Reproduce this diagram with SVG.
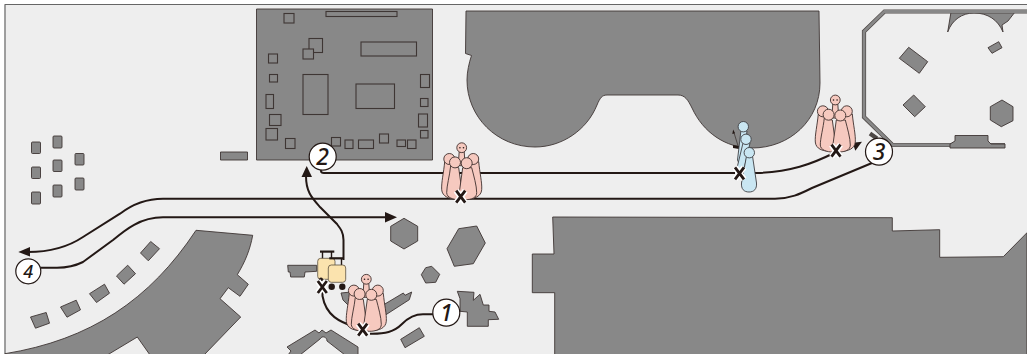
<svg xmlns="http://www.w3.org/2000/svg" width="1027" height="354" viewBox="0 0 1027 354">
<style>
.b{fill:#888;stroke:#3e3634;stroke-width:.9;stroke-linejoin:round}
.i{fill:none;stroke:#3e3634;stroke-width:1.100}
.s{fill:#888;stroke:#3e3634;stroke-width:1.100}
.wo{fill:none;stroke:#4e4846;stroke-width:4.200}
.wi{fill:none;stroke:#888;stroke-width:2.800}
.r{fill:none;stroke:#231815;stroke-width:2}
.a{fill:#231815}
.p{fill:#f6c9bf;stroke:#3e2f2c;stroke-width:.9}
.u{fill:#c9e6f2;stroke:#3e3f44;stroke-width:.9}
.c{fill:#fbe3ae;stroke:#5c5040;stroke-width:.8}
.n{fill:#fff;stroke:#231815;stroke-width:1.200}
.t{font-family:"Noto Sans","Open Sans",sans-serif;font-style:italic;font-weight:500;fill:#231815;text-anchor:middle}
.xh{fill:none;stroke:#fff;stroke-width:6}
.xk{fill:none;stroke:#231815;stroke-width:2.800}
</style>
<defs>
<g id="cluster">
<path class="p" d="M-2.500 4L-3.500 18L3.500 18L2.500 4Z"/>
<circle class="p" cx="0" cy="0" r="4.900"/>
<circle class="a" cx="-1.800" cy="0" r=".8"/>
<circle class="a" cx="1.800" cy="0" r=".8"/>
<path class="p" d="M-17 14C-18 25-20.500 35-20 42C-19.500 49-12 51-8 51L-6 30L-9 14Z"/>
<path class="p" d="M17 14C18 25 20.500 35 20 42C19.500 49 12 51 8 51L6 30L9 14Z"/>
<circle class="p" cx="-12.400" cy="11.300" r="5.500"/>
<circle class="p" cx="11.500" cy="11.300" r="5.500"/>
<path class="p" d="M-11 18C-12 28-15 38-15 45C-15 50-8 52-3 52C1 52 1 48 0 42L-3 20Z"/>
<path class="p" d="M1 20L-2 42C-3 48-3 52 3 52C10 52 15 50 15 45C15 38 12 28 10 20Z"/>
<circle class="p" cx="-6.700" cy="14.700" r="5.500"/>
<circle class="p" cx="5" cy="15.500" r="5.500"/>
</g>
<g id="x">
<path class="xh" d="M-4.500-6L4.500 6M4.500-6L-4.500 6"/>
<path class="xk" d="M-4.500-6L4.500 6M4.500-6L-4.500 6"/>
</g>
</defs>
<rect x="5" y="4.500" width="1030" height="360" fill="#eee" stroke="#666" stroke-width="1"/>
<path d="M5 5V354" stroke="#999" stroke-width="1.500"/>

<g id="building-board">
<rect class="b" x="256.500" y="9" width="176" height="151"/>
<rect class="i" x="326" y="11.500" width="71" height="5"/>
<rect class="i" x="284" y="13.500" width="10" height="9.500"/>
<rect class="i" x="309" y="38.500" width="13.500" height="14"/>
<rect class="s" x="303" y="49" width="10.500" height="10"/>
<rect class="i" x="268.500" y="54" width="9" height="9"/>
<rect class="i" x="269.500" y="74.500" width="8" height="7.500"/>
<rect class="i" x="303" y="74.500" width="25" height="40"/>
<rect class="i" x="266" y="94.500" width="7.500" height="14"/>
<rect class="i" x="269.500" y="114.500" width="11.500" height="11"/>
<rect class="i" x="266" y="128.500" width="11.500" height="11.500"/>
<rect class="i" x="285.500" y="138.500" width="9.500" height="10"/>
<rect class="i" x="331.500" y="137.500" width="9" height="8.500"/>
<rect class="i" x="345" y="140" width="8" height="8.500"/>
<rect class="i" x="358.500" y="140" width="15" height="8.500"/>
<rect class="i" x="379.500" y="134" width="9" height="9"/>
<rect class="i" x="397" y="140" width="8.500" height="6.500"/>
<rect class="i" x="407.500" y="140" width="8.500" height="8.500"/>
<rect class="i" x="420.500" y="130.500" width="7.500" height="7.500"/>
<rect class="i" x="418.500" y="114" width="9" height="13"/>
<rect class="i" x="420.500" y="98.500" width="7.500" height="8"/>
<rect class="i" x="420.500" y="74.500" width="9" height="13"/>
<rect class="i" x="361" y="42" width="55.500" height="14"/>
<rect class="i" x="356" y="84" width="38.500" height="24.500"/>
</g>
<g id="building-small">
<rect class="b" x="220.500" y="152" width="27" height="8"/>
<rect class="b" x="31.500" y="142" width="9" height="11.500" rx="1"/>
<rect class="b" x="31.500" y="167" width="9" height="11.500" rx="1"/>
<rect class="b" x="31.500" y="192" width="9" height="12" rx="1"/>
<rect class="b" x="53" y="136" width="9" height="12" rx="1"/>
<rect class="b" x="53" y="160" width="9" height="11.500" rx="1"/>
<rect class="b" x="53" y="185" width="9" height="12" rx="1"/>
<rect class="b" x="75" y="153.500" width="9" height="11.500" rx="1"/>
<rect class="b" x="75" y="178" width="9" height="12" rx="1"/>
<path class="b" stroke-width="1.500" d="M30.500 317L46.200 312.500L49.500 323.200L35.500 328.200Z"/>
<path class="b" d="M60.500 307L76.200 300.200L80.500 309.800L67 317.200Z"/>
<path class="b" d="M89.500 293.700L104.500 284.200L109.500 293.200L96.500 302.500Z"/>
<path class="b" d="M116.500 276L127.700 265.200L135.500 273.700L124 284.200Z"/>
<path class="b" d="M140.500 253L150.700 241.500L159.500 248.700L148.300 260.800Z"/>
</g>
<g id="building-arc">
<path class="b" d="M466 11H819L820 83C820 120 790 148 752 148C725 148 703 132 692 108C688 100 685 95 678 95H607C602 95 600 98 597 105C587 130 562 147 535 147C497 147 467 117 467 80C467 72 469 63 471.500 55.500L465.500 53.500Z"/>
</g>
<g id="building-east">
<path class="b" d="M951 12L947.700 32C952 20 962 13 974 13C988 13 998 20 1003 32L1002 25L1008 21L1015 12Z"/>
<path class="wo" d="M1027 11.500H884.500L864 31.500V117L892.500 145H1005"/>
<path class="wi" d="M1027 11.500H884.500L864 31.500V117L892.500 145H1005"/>
<path class="b" d="M950 144L955 141V135.500H988V141L991 144H1005V148H950Z"/>
<path class="wo" d="M870 133.500L877 138.500" stroke-width="3"/>
<path class="b" d="M908.700 47.300L927.700 61.700L919.300 73.300L899.300 58.300Z"/>
<path class="b" d="M998.700 41.700L1002 47.700L992 53.300L988 47.700Z"/>
<path class="b" d="M913.700 95L925.300 106.700L914.700 116.700L903 105Z"/>
<path class="b" d="M1002 100L1013 106.700L1013 120.700L1001.300 126.700L990.300 120L990.300 106.700Z"/>
</g>
<g id="building-south">
<path class="b" d="M552.700 217L892.300 217.700V231L939.700 229.700V257.300L1003.300 256.700L1027 232.700V355H554.700V292.700H532.300V254H554Z"/>
</g>
<g id="building-west">
<path class="b" d="M196 230.300L252.700 235.300C250 250 245 262 237.300 274.700L248.300 284.300L240 296.300L228.300 287.700L220 298.700L240.700 317L204 355H150L137.300 337L107.300 355H5V353.700C90 340 150 300 196 230.300Z"/>
</g>
<g id="building-mid">
<path class="b" d="M404 218.300L417.700 226.300L417.700 241L404 249L390.700 241L390.700 226.300Z"/>
<path class="b" d="M476.700 226L485.300 243L473.300 263.700L454.300 266.300L447 248.700L458.700 228.700Z"/>
<path class="b" d="M431.700 266.300L439.700 274.300L435.700 282.300L425.700 283L421.300 274.700L425.700 267.700Z"/>
<path class="b" d="M400.700 339.300L419.300 327.700L424.300 336.300L405 347.700Z"/>
<path class="b" d="M457.300 291.300L474 292.300L473.300 300.300L480 294.300L483.300 305L489 305L489 311.300L495 312L498.700 319.300L488.300 319.700L488.300 326.300L467.300 326.300L467.300 312L460 311.300L460 298.700Z"/>
<path class="b" d="M382.700 305.300L403.300 293L405 295.300L411.700 292L409.300 299.700L385 315.300Z"/>
<path class="b" d="M341 293L351 292L352 306L348 305L343 300Z"/>
<path class="b" d="M287 347L315 330L319 333L322 330L326 333L331 330L358 347V355H345L327 341C327 337 322 335 320 339L300 355H288L291 351Z"/>
<path class="b" d="M287.700 265.300H316.700V271.300L305 272L304.300 277H290.700L290 272L288.300 272Z"/>
</g>

<g id="connectors">
<path class="r" d="M321 169V171C321 172.500 322 173 324 173H735"/>
<path class="r" d="M745 173H757C790 172 812 164 834 153"/>
<path class="a" d="M852.700 142.700L862 141.700L855.300 150.700Z"/>
<path class="r" d="M872 163L812 188C800 194 790 198.700 775 198.700H163C143 198.700 130 206 120 213.700L83 237C68 247 50 252 28 252"/>
<path class="a" d="M18.300 252L30 247V256.500Z"/>
<path class="r" d="M40 267.700H57C68 267.700 75 266 83 262L113 240C125 230 140 217.300 163 217.300H388"/>
<path class="a" d="M397 217.300L385 212V222.500Z"/>
<path class="r" d="M433 314.300H423C414 314.300 408 318 402 324C394 332 385 334 370 333.700"/>
<path class="r" d="M355 327C340 322 326 316 322.500 296V290"/>
<path class="r" d="M343.500 260V240C343.500 232 340 228 336.700 223.700L320 207C312 198 306 192 306 176"/>
<path class="a" d="M306.700 166L301.500 177H312Z"/>
</g>

<g id="people-1"><use href="#cluster" x="366.300" y="279.300"/></g>
<g id="people-2"><use href="#cluster" x="461.700" y="147.700"/></g>
<g id="people-3"><use href="#cluster" x="835.300" y="100"/></g>
<g id="people-blue">
<path d="M733.700 131.700L738.700 148" stroke="#3e3634" stroke-width=".8" fill="none"/>
<path class="a" d="M733.200 129.500L732.300 134L735 133.300Z"/>
<path class="a" d="M733 145L739 146V149L733 148Z"/>
<path class="u" d="M741 130L737.500 160L742 170L747 131Z"/>
<circle class="u" cx="743.300" cy="126.700" r="5.200"/>
<path class="u" d="M743 143L737 168L742 178L750 143Z"/>
<circle class="u" cx="746" cy="139.300" r="5.200"/>
<path class="u" d="M746.500 156L741.500 183C741 189 744 192 749 192C754 192 757 189 756.500 183L752.500 156Z"/>
<circle class="u" cx="749.300" cy="152.700" r="5.200"/>
</g>
<g id="luggage">
<path d="M322.500 252V259M331.500 252V259M332 259V266M341.500 259V266" stroke="#231815" stroke-width="1.400" fill="none"/>
<rect class="a" x="320" y="250.500" width="14.300" height="2.200"/>
<rect class="c" x="317.700" y="258.300" width="17.300" height="21" rx="3"/>
<rect class="a" x="329.300" y="257.200" width="14.700" height="2.200"/>
<rect class="c" x="328.300" y="265" width="17.400" height="17.300" rx="3"/>
<circle class="a" cx="331.700" cy="286.700" r="3.200"/>
<circle class="a" cx="342.300" cy="286.700" r="3.200"/>
<circle class="a" cx="321" cy="279.500" r="2"/>
</g>
<g id="marks">
<use href="#x" x="322.300" y="287"/>
<use href="#x" x="362.700" y="329.700"/>
<use href="#x" x="460.700" y="196.700"/>
<use href="#x" x="739.500" y="173.300"/>
<use href="#x" x="836" y="150.700"/>
</g>
<g id="node-1"><circle class="n" cx="446.300" cy="312.700" r="13.500"/><text class="t" x="446.300" y="321" font-size="23">1</text></g>
<g id="node-2"><circle class="n" cx="322.700" cy="156.700" r="13.500"/><text class="t" x="322.700" y="165" font-size="23">2</text></g>
<g id="node-3"><circle class="n" cx="879" cy="151.700" r="13.500"/><text class="t" x="879" y="160" font-size="23">3</text></g>
<g id="node-4"><circle class="n" cx="28.300" cy="271.300" r="12.500"/><text class="t" x="28.300" y="278" font-size="18">4</text></g>
</svg>
